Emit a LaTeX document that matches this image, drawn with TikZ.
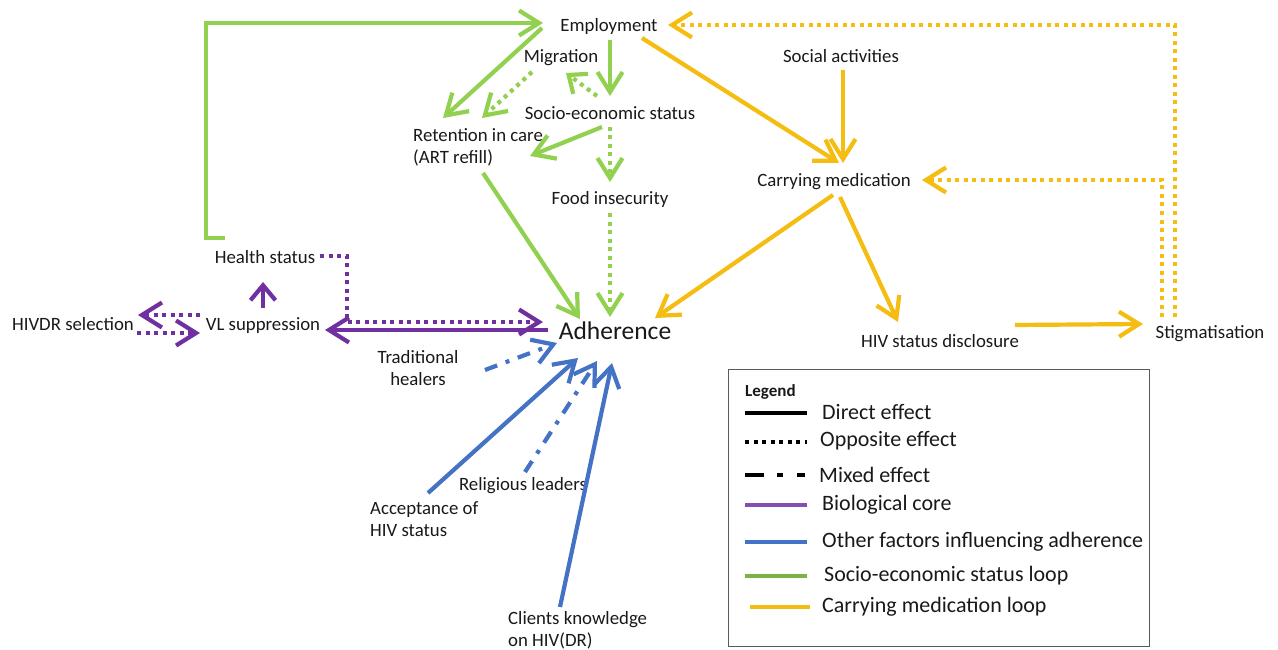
\documentclass[tikz,border=0pt]{standalone}
\usepackage{fontspec}
\setmainfont{Carlito}
\usetikzlibrary{arrows.meta}

\definecolor{cgreen}{RGB}{146,208,80}
\definecolor{cyellow}{RGB}{245,188,18}
\definecolor{cpurple}{RGB}{112,48,160}
\definecolor{cblue}{RGB}{68,114,196}
\definecolor{ctext}{RGB}{25,25,25}
\definecolor{cframe}{RGB}{90,90,90}

\tikzset{
  lbl/.style={inner sep=0pt, font=\fontsize{18.8}{22}\selectfont, text=ctext},
  lbll/.style={lbl, align=left, anchor=west},
  lblc/.style={lbl, align=center},
  link/.style={line width=4.2pt, -{Straight Barb[length=20pt,width=25pt]}},
  shortlink/.style={line width=4.2pt, -{Straight Barb[length=15pt,width=25pt]}},
  opp/.style={dash pattern=on 4pt off 4.5pt},
  mixd/.style={dash pattern=on 13pt off 9pt on 4pt off 9pt},
  grn/.style={draw=cgreen},
  ylw/.style={draw=cyellow},
  prp/.style={draw=cpurple},
  blu/.style={draw=cblue},
  legtxt/.style={inner sep=0pt, anchor=west, font=\fontsize{22}{25}\selectfont, text=ctext},
  legline/.style={line width=4.5pt},
}

\begin{document}
\begin{tikzpicture}[x=1pt,y=-1pt]
\useasboundingbox (0,0) rectangle (1278,650);

% ---- factor labels ----
\node[lbl]  (emp)    at (609,26)  {Employment};
\node[lbl]  (mig)    at (561,58)  {Migration};
\node[lbl]  (ses)    at (610,113) {Socio-economic status};
\node[lbll] (ret)    at (413,147) {Retention in care\\(ART refill)};
\node[lbl]  (food)   at (610,199) {Food insecurity};
\node[lbl]  (soc)    at (841,56)  {Social activities};
\node[lbl]  (carry)  at (834,182) {Carrying medication};
\node[lbl]  (health) at (265,257) {Health status};
\node[lbl]  (hivdr)  at (73,324)  {HIVDR selection};
\node[lbl]  (vl)     at (263,326) {VL suppression};
\node[lbl, font=\fontsize{25.5}{28}\selectfont] (adh) at (615,331) {Adherence};
\node[lblc] (trad)   at (418,368) {Traditional\\healers};
\node[lbl]  (rel)    at (523,486) {Religious leaders};
\node[lbll] (acc)    at (370,519) {Acceptance of\\HIV status};
\node[lbll] (cli)    at (508,630) {Clients knowledge\\on HIV(DR)};
\node[lbl]  (disc)   at (940,341) {HIV status disclosure};
\node[lbl]  (stig)   at (1210,334) {Stigmatisation};

% ---- socio-economic status loop ----
\draw[link,grn,line join=miter] ([shift={(-40,-19)}]health.center) -- ++(-19,0)
      |- ([shift={(-66,-3)}]emp.center);
\draw[link,grn] ([shift={(-67,2)}]emp.center) -- ([shift={(30,-29)}]ret.west);
\draw[link,grn] ([shift={(1,14)}]emp.center) -- ([shift={(0,-17)}]ses.center);
\draw[shortlink,grn,opp] ([shift={(-13,-17)}]ses.center) -- ([shift={(5,15)}]mig.center);
\draw[link,grn,opp] ([shift={(-29,14)}]mig.center) -- ([shift={(69,-29)}]ret.west);
\draw[link,grn] ([shift={(-8,14)}]ses.center) -- ([shift={(117,9)}]ret.west);
\draw[link,grn,opp] ([shift={(0,14)}]ses.center) -- ([shift={(0,-17)}]food.center);
\draw[link,grn] ([shift={(70,26)}]ret.west) -- ([shift={(-35,-12)}]adh.center);
\draw[link,grn,opp] ([shift={(0,14)}]food.center) -- ([shift={(-5,-14)}]adh.center);

% ---- carrying medication loop ----
\draw[link,ylw] ([shift={(33,12)}]emp.center) -- ([shift={(5,-19)}]carry.center);
\draw[link,ylw] ([shift={(2,14)}]soc.center) -- ([shift={(9,-19)}]carry.center);
\draw[link,ylw] ([shift={(-1,13)}]carry.center) -- ([shift={(40,-13)}]adh.center);
\draw[link,ylw] ([shift={(6,15)}]carry.center) -- ([shift={(-42,-19)}]disc.center);
\draw[link,ylw] ([shift={(75,-16)}]disc.center) -- ([shift={(-67,-10)}]stig.center);
\draw[link,ylw,opp] ([shift={(-35,-17)}]stig.center) |- ([shift={(59,-1)}]emp.center);
\draw[link,ylw,opp] ([shift={(-48,-17)}]stig.center) |- ([shift={(88,-2)}]carry.center);

% ---- biological core ----
\draw[shortlink,prp] ([shift={(0,-18)}]vl.center) -- ([shift={(-2,25)}]health.center);
\draw[link,prp,opp] ([shift={(-63,-11)}]vl.center) -- ([shift={(65,-9)}]hivdr.center);
\draw[link,prp,opp] ([shift={(64,9)}]hivdr.center) -- ([shift={(-63,7)}]vl.center);
\draw[link,prp,opp] ([shift={(55,-1)}]health.center) -- ++(27,0)
      |- ([shift={(-72,-9)}]adh.center);
\draw[link,prp] ([shift={(-67,-1)}]adh.center) -- ([shift={(62,4)}]vl.center);

% ---- other factors influencing adherence ----
\draw[link,blu,mixd] ([shift={(67,2)}]trad.center) -- ([shift={(-58,12)}]adh.center);
\draw[link,blu] ([shift={(58,-26)}]acc.west) -- ([shift={(-37,27)}]adh.center);
\draw[link,blu,mixd] ([shift={(2,-14)}]rel.center) -- ([shift={(-18,30)}]adh.center);
\draw[link,blu] ([shift={(52,-23)}]cli.west) -- ([shift={(-3,32)}]adh.center);

% ---- legend ----
\draw[cframe, line width=1pt] (728,369) rectangle (1149,646);
\node[inner sep=0pt, anchor=west, font=\bfseries\fontsize{17}{19}\selectfont, text=ctext] (leg) at (745,392) {Legend};
\node[legtxt] (l1) at (822,412) {Direct effect};
\node[legtxt] (l2) at (820,441) {Opposite effect};
\node[legtxt] (l3) at (819,475) {Mixed effect};
\node[legtxt] (l4) at (822,505) {Biological core};
\node[legtxt] (l5) at (822,542) {Other factors influencing adherence};
\node[legtxt] (l6) at (824,576) {Socio-economic status loop};
\node[legtxt] (l7) at (822,607) {Carrying medication loop};
\draw[legline,black] (745,413) -- (807,413);
\draw[legline,black,dash pattern=on 4pt off 4.5pt] (745,442) -- (807,442);
\draw[legline,black,dash pattern=on 19pt off 13pt on 6pt off 14pt on 8pt off 10pt] (745,475) -- (807,475);
\draw[legline,cpurple!85!white] (745,505) -- (807,505);
\draw[legline,cblue] (745,542) -- (807,542);
\draw[legline,cgreen!85!black] (745,576) -- (807,576);
\draw[legline,cyellow] (750,607) -- (810,607);
\end{tikzpicture}
\end{document}
